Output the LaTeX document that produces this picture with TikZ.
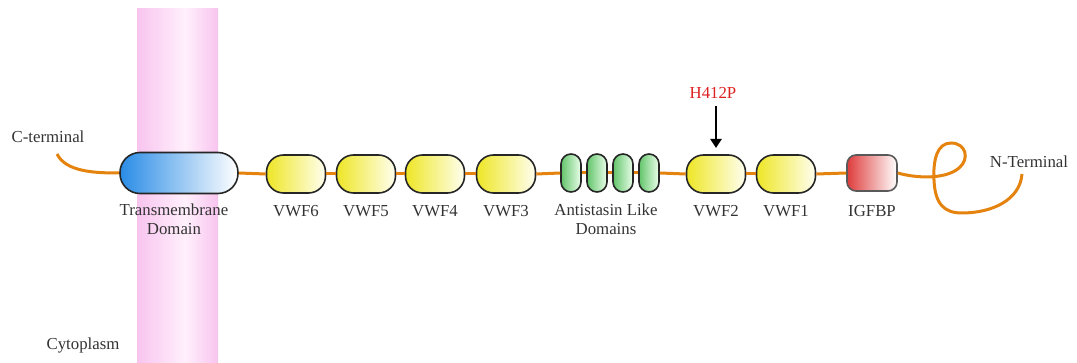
\documentclass[tikz,border=0pt]{standalone}
\usepackage{fontspec}
\setmainfont{Liberation Serif}
\usetikzlibrary{arrows.meta}
\definecolor{chain}{HTML}{E5830F}
\definecolor{txt}{HTML}{333333}
\definecolor{memb}{HTML}{F8C4EF}
\definecolor{membc}{HTML}{FFF0FC}
\definecolor{tmblue}{HTML}{2A8CE6}
\definecolor{vwfy}{HTML}{EEE626}
\definecolor{antig}{HTML}{62C46A}
\definecolor{igred}{HTML}{DE3C3C}
\definecolor{muted}{HTML}{DD2020}
\tikzset{
  lbl/.style={font=\fontsize{8.4pt}{9.6pt}\selectfont, text=txt, align=center, inner sep=0pt},
  dom/.style={draw=black!85, line width=0.8pt, inner sep=0pt, shading=axis, shading angle=90},
  vwf/.style={dom, minimum width=29.5pt, minimum height=19pt, rounded corners=8.5pt, left color=vwfy, right color=yellow!6},
  anti/.style={dom, minimum width=10pt, minimum height=19pt, rounded corners=5pt, left color=antig, right color=green!8},
  tmd/.style={dom, minimum width=59pt, minimum height=20.5pt, rounded corners=10pt, left color=tmblue, right color=white},
  igf/.style={dom, draw=black!65, minimum width=25pt, minimum height=18pt, rounded corners=4.5pt, left color=igred, right color=white},
  chainline/.style={draw=chain, line width=1.5pt}
}
\begin{document}
\begin{tikzpicture}[x=0.5pt,y=-0.5pt]
\useasboundingbox (0,0) rectangle (1077,363);
% membrane band
\shade[left color=memb, right color=membc] (137,9) rectangle (185,363);
\shade[left color=membc, right color=memb] (185,9) rectangle (218,363);
% domains
\node[tmd] (tm) at (179,173) {};
\node[vwf] (v6) at (296,174) {};
\node[vwf] (v5) at (366,174) {};
\node[vwf] (v4) at (435,174) {};
\node[vwf] (v3) at (506,174) {};
\node[anti] (a1) at (571,173) {};
\node[anti] (a2) at (597,173) {};
\node[anti] (a3) at (623,173) {};
\node[anti] (a4) at (649,173) {};
\node[vwf] (v2) at (716,174) {};
\node[vwf] (v1) at (786,174) {};
\node[igf] (ig) at (872,173) {};
% chain
\coordinate (cstart) at (57,154);
\coordinate (nend) at (1022,174);
\draw[chainline] (cstart) .. controls (66,172) and (95,173) .. (tm.west);
\draw[chainline] (tm.east) -- (v6.west);
\draw[chainline] (v6.east) -- (v5.west);
\draw[chainline] (v5.east) -- (v4.west);
\draw[chainline] (v4.east) -- (v3.west);
\draw[chainline] (v3.east) -- (a1.west);
\draw[chainline] (a1.east) -- (a2.west);
\draw[chainline] (a2.east) -- (a3.west);
\draw[chainline] (a3.east) -- (a4.west);
\draw[chainline] (a4.east) -- (v2.west);
\draw[chainline] (v2.east) -- (v1.west);
\draw[chainline] (v1.east) -- (ig.west);
\draw[chainline] (ig.east) .. controls (915,178) and (945,180) .. (959,168)
  .. controls (970,159) and (966,143) .. (951,143)
  .. controls (937,143) and (933,160) .. (934,180)
  .. controls (935,205) and (945,213) .. (962,213)
  .. controls (992,213) and (1020,200) .. (nend);
% labels
\node[lbl] (cterm) at (48,137) {C-terminal};
\node[lbl] (nterm) at (1029,162) {N-Terminal};
\node[lbl] (tml) at (174,219) {Transmembrane\\Domain};
\node[lbl] (l6) at (296,211) {VWF6};
\node[lbl] (l5) at (366,211) {VWF5};
\node[lbl] (l4) at (435,211) {VWF4};
\node[lbl] (l3) at (506,211) {VWF3};
\node[lbl] (la) at (606,219) {Antistasin Like\\Domains};
\node[lbl] (l2) at (716,211) {VWF2};
\node[lbl] (l1) at (786,211) {VWF1};
\node[lbl] (lig) at (872,211) {IGFBP};
\node[lbl] (cyto) at (83,345) {Cytoplasm};
\node[lbl, text=muted] (mut) at (713,93) {H412P};
\coordinate (arrtip) at (716,148);
\draw[line width=1.3pt, -{Triangle[length=4.5pt,width=5.5pt]}] (716,106) -- (arrtip);
\end{tikzpicture}
\end{document}
